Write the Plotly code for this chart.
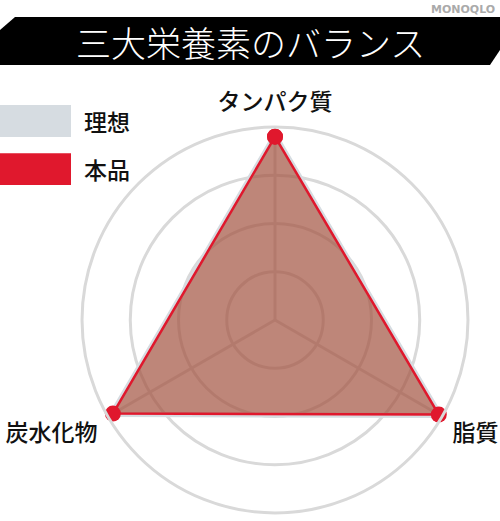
import plotly.graph_objects as go

# data
categories = ["タンパク質", "脂質", "炭水化物"]
ideal = [96, 99, 98]
product = [95, 98, 97]
series_names = ["理想", "本品"]
title_text = "三大栄養素のバランス"

font_jp = "Noto Sans CJK JP"
red = "#e0182d"
grey = "#d6dce1"
grid = "#d9d9d9"

def closed(vals):
    return vals + vals[:1]

cats = closed(categories)

fig = go.Figure()
fig.add_trace(go.Scatterpolar(
    r=closed(ideal), theta=cats, name=series_names[0],
    mode="lines", fill="toself",
    fillcolor="rgba(200,208,215,0.35)",
    line=dict(color=grey, width=5),
))
fig.add_trace(go.Scatterpolar(
    r=closed(product), theta=cats, name=series_names[1],
    mode="lines+markers", fill="toself",
    fillcolor="rgba(153,47,21,0.55)",
    line=dict(color=red, width=2.5),
    marker=dict(color=red, size=16),
))

fig.update_layout(
    width=500, height=521,
    margin=dict(l=0, r=0, t=0, b=0),
    paper_bgcolor="white",
    showlegend=False,
    font=dict(family=font_jp, color="#111"),
    polar=dict(
        domain=dict(x=[0.164, 0.936], y=[0.0154, 0.7562]),
        bgcolor="white",
        radialaxis=dict(range=[0, 100], tickvals=[25, 50, 75],
                        showticklabels=False, ticks="", showline=False,
                        gridcolor=grid, gridwidth=3),
        angularaxis=dict(rotation=90, direction="clockwise",
                         showline=True, linecolor=grid, linewidth=3,
                         gridcolor=grid, gridwidth=3,
                         ticks="outside", ticklen=6, tickcolor="rgba(0,0,0,0)",
                         tickfont=dict(size=23, color="#111", family=font_jp, weight=500)),
    ),
)

# title banner
fig.add_shape(type="path", xref="paper", yref="paper",
              path="M 0.03,0.9674 L 1,0.9674 L 1,0.904 L 0.98,0.8752 L 0,0.8752 L 0,0.9424 Z",
              fillcolor="black", line=dict(width=0))
fig.add_annotation(x=0.5, y=0.921, xref="paper", yref="paper", text=title_text,
                   showarrow=False, xanchor="center", yanchor="middle",
                   font=dict(size=35, color="white", family=font_jp, weight=300))
fig.add_annotation(x=0.994, y=0.981, xref="paper", yref="paper", text="MONOQLO",
                   showarrow=False, xanchor="right", yanchor="middle",
                   font=dict(size=11, color="#aaaaaa", family="DejaVu Sans", weight="bold"))

# legend
legend_colors = [grey, red]
legend_y = [(0.7985, 0.737), (0.706, 0.645)]
for name, col, (ya, yb) in zip(series_names, legend_colors, legend_y):
    fig.add_shape(type="rect", xref="paper", yref="paper",
                  x0=0, x1=0.142, y0=yb, y1=ya, fillcolor=col, line=dict(width=0))
    fig.add_annotation(x=0.164, y=(ya + yb) / 2, xref="paper", yref="paper",
                       text=name, showarrow=False, xanchor="left", yanchor="middle",
                       font=dict(size=23, color="#111", family=font_jp, weight=500))

fig.write_html("out.html", config={"displayModeBar": False},
               post_script="document.body.style.margin='0';")
